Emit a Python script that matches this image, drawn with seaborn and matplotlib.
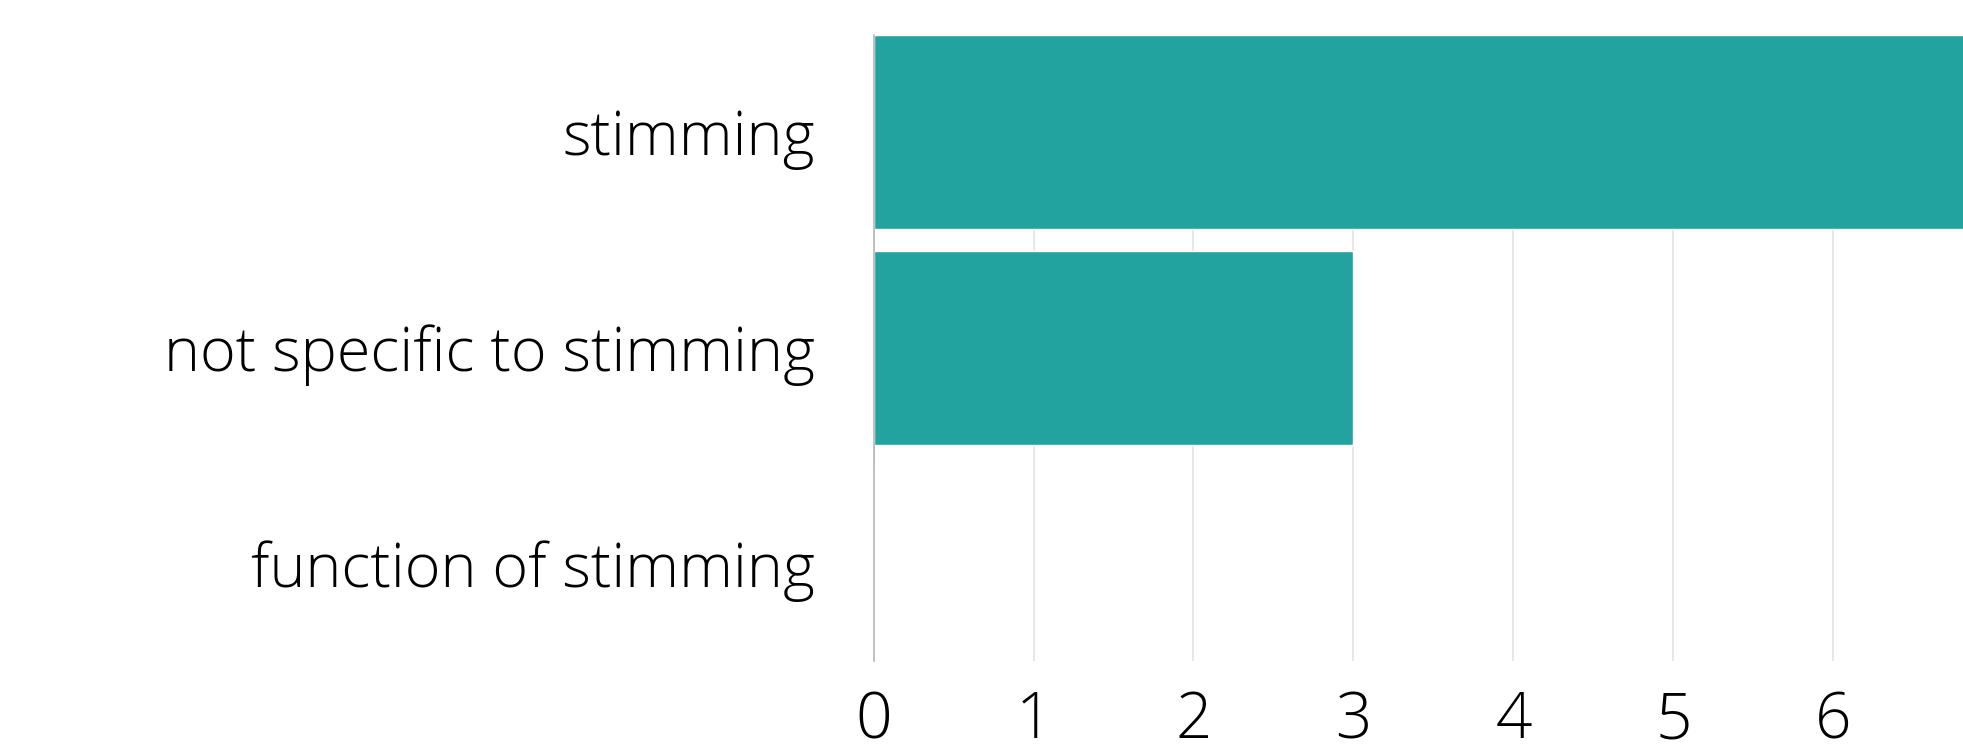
import matplotlib
matplotlib.use("Agg")
import matplotlib.pyplot as plt
import seaborn as sns
import pandas as pd

# data
categories = ["stimming", "not specific to stimming", "function of stimming"]
counts = [7, 3, 0]
ticks = [0, 1, 2, 3, 4, 5, 6]

df = pd.DataFrame({"category": categories, "count": counts})

sns.set_theme(style="white")
plt.rcParams['font.family'] = ['Open Sans', 'DejaVu Sans']

fig = plt.figure(figsize=(19.63, 7.54), dpi=100)
ax = fig.add_axes([0.445, 0.123, 0.555, 0.8306])

sns.barplot(data=df, y="category", x="count", color="#22a39f",
            saturation=1, width=0.9, ax=ax)

ax.set_xlim(0, 6.81)
ax.set_ylim(2.45, -0.45)
ax.set_xticks(ticks)
ax.set_xlabel("")
ax.set_ylabel("")
ax.grid(axis="x", color="#e3e3e3", linewidth=1.2)
ax.set_axisbelow(True)
for s in ["top", "right", "bottom"]:
    ax.spines[s].set_visible(False)
ax.spines["left"].set_color("#b5b5b5")
ax.spines["left"].set_linewidth(1.2)
ax.tick_params(axis="x", length=0, pad=20, labelsize=46, colors="black")
ax.tick_params(axis="y", length=0, pad=42, labelsize=44, colors="black")
for lab in ax.get_xticklabels() + ax.get_yticklabels():
    lab.set_fontweight("light")

fig.savefig("out.png", dpi=100)
